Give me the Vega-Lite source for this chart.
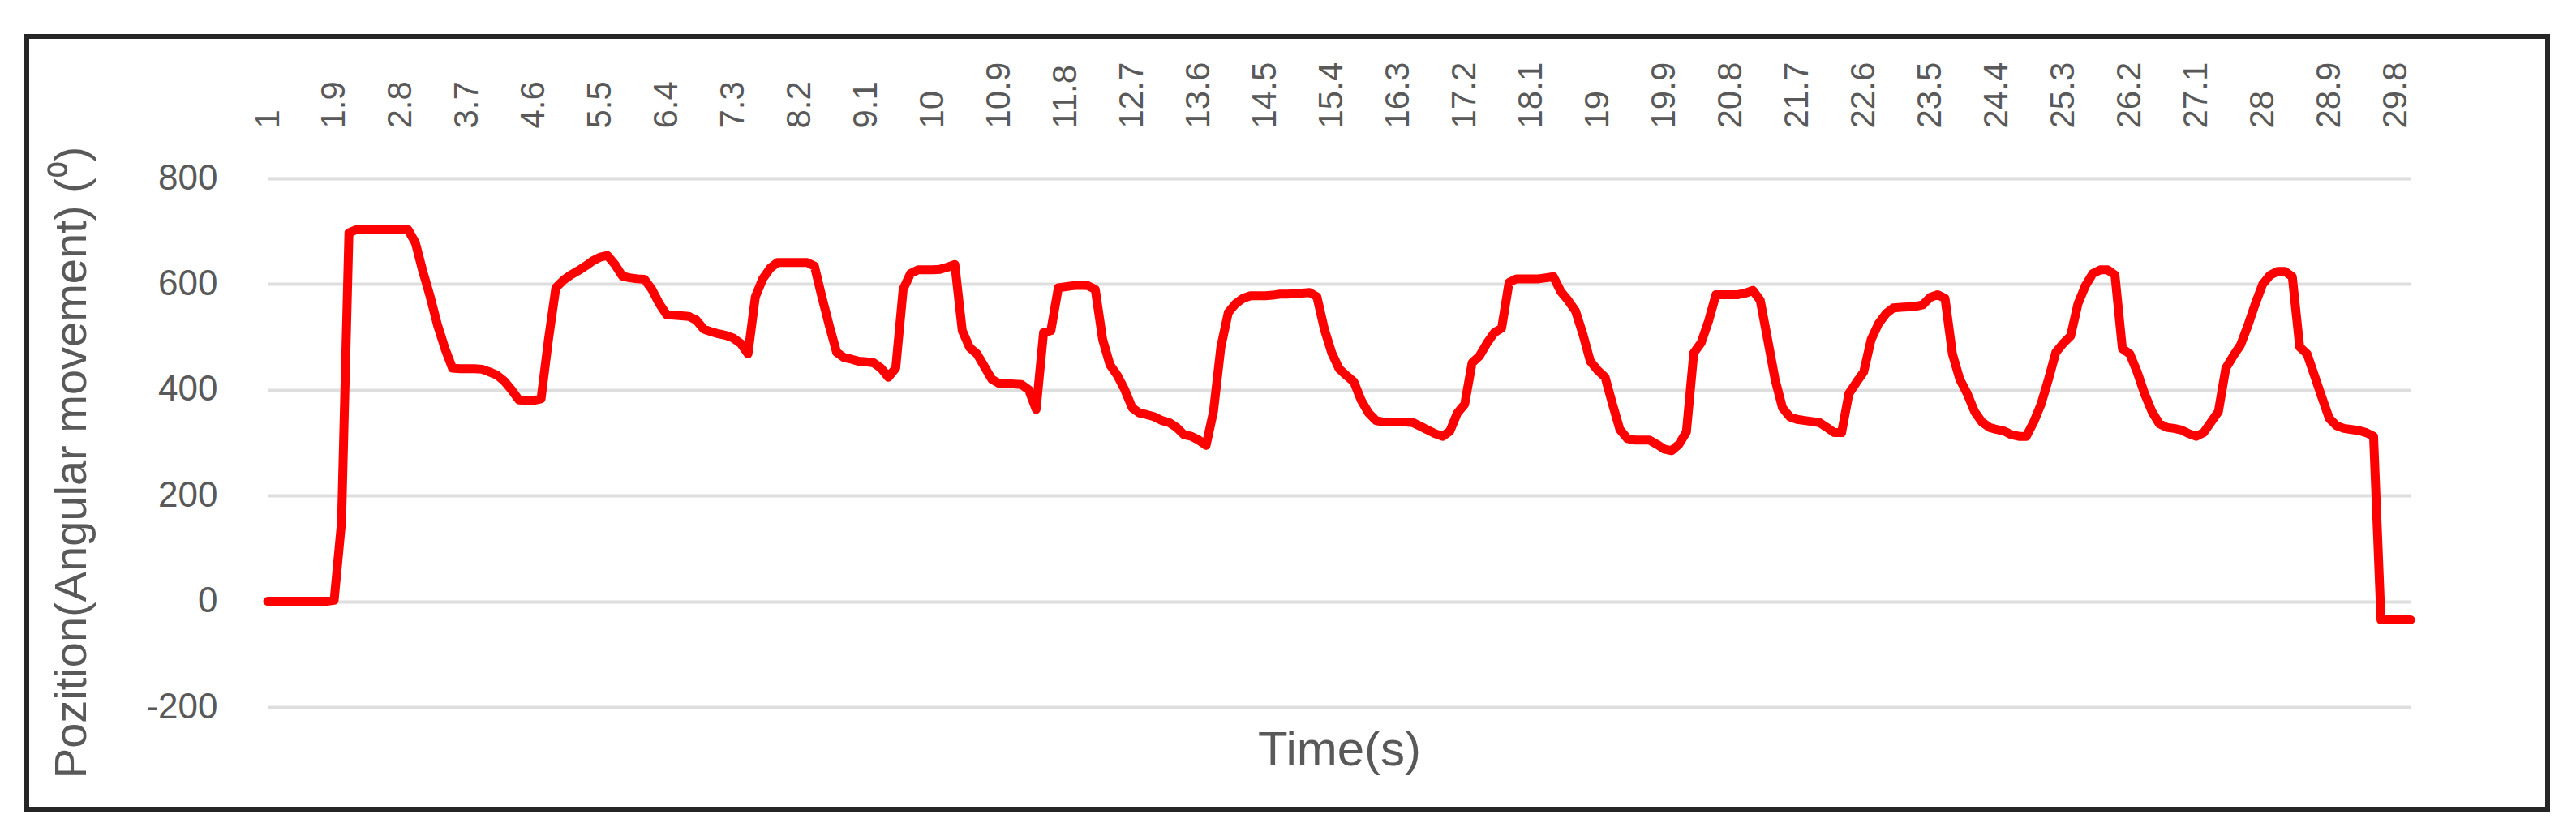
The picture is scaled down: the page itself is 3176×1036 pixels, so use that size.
{
 "$schema": "https://vega.github.io/schema/vega-lite/v6.json",
 "width": 2642,
 "height": 652,
 "autosize": {"type": "none"},
 "padding": {"left": 330, "top": 220, "right": 204, "bottom": 164},
 "background": "white",
 "config": {"view": {"stroke": null}, "font": "Liberation Sans"},
 "data": {"values": [
{"t":1.0,"v":0},{"t":1.1,"v":0},{"t":1.2,"v":0},{"t":1.3,"v":0},{"t":1.4,"v":0},{"t":1.5,"v":0},{"t":1.6,"v":0},{"t":1.7,"v":0},{"t":1.8,"v":0},{"t":1.9,"v":2},
{"t":2.0,"v":150},{"t":2.1,"v":697},{"t":2.2,"v":703},{"t":2.3,"v":703},{"t":2.4,"v":703},{"t":2.5,"v":703},{"t":2.6,"v":703},{"t":2.7,"v":703},{"t":2.8,"v":703},{"t":2.9,"v":703},
{"t":3.0,"v":678},{"t":3.1,"v":624},{"t":3.2,"v":576},{"t":3.3,"v":522},{"t":3.4,"v":478},{"t":3.5,"v":441},{"t":3.6,"v":440},{"t":3.7,"v":440},{"t":3.8,"v":440},{"t":3.9,"v":439},
{"t":4.0,"v":434},{"t":4.1,"v":428},{"t":4.2,"v":417},{"t":4.3,"v":400},{"t":4.4,"v":381},{"t":4.5,"v":380},{"t":4.6,"v":380},{"t":4.7,"v":383},{"t":4.8,"v":495},{"t":4.9,"v":593},
{"t":5.0,"v":607},{"t":5.1,"v":617},{"t":5.2,"v":625},{"t":5.3,"v":634},{"t":5.4,"v":644},{"t":5.5,"v":651},{"t":5.6,"v":654},{"t":5.7,"v":637},{"t":5.8,"v":615},{"t":5.9,"v":612},
{"t":6.0,"v":610},{"t":6.1,"v":609},{"t":6.2,"v":590},{"t":6.3,"v":563},{"t":6.4,"v":542},{"t":6.5,"v":541},{"t":6.6,"v":540},{"t":6.7,"v":539},{"t":6.8,"v":532},{"t":6.9,"v":515},
{"t":7.0,"v":510},{"t":7.1,"v":506},{"t":7.2,"v":503},{"t":7.3,"v":498},{"t":7.4,"v":488},{"t":7.5,"v":468},{"t":7.6,"v":576},{"t":7.7,"v":610},{"t":7.8,"v":630},{"t":7.9,"v":641},
{"t":8.0,"v":641},{"t":8.1,"v":641},{"t":8.2,"v":641},{"t":8.3,"v":641},{"t":8.4,"v":634},{"t":8.5,"v":576},{"t":8.6,"v":522},{"t":8.7,"v":471},{"t":8.8,"v":461},{"t":8.9,"v":458},
{"t":9.0,"v":454},{"t":9.1,"v":453},{"t":9.2,"v":451},{"t":9.3,"v":441},{"t":9.4,"v":424},{"t":9.5,"v":441},{"t":9.6,"v":590},{"t":9.7,"v":620},{"t":9.8,"v":627},{"t":9.9,"v":627},
{"t":10.0,"v":627},{"t":10.1,"v":628},{"t":10.2,"v":632},{"t":10.3,"v":637},{"t":10.4,"v":512},{"t":10.5,"v":480},{"t":10.6,"v":468},{"t":10.7,"v":444},{"t":10.8,"v":420},{"t":10.9,"v":412},
{"t":11.0,"v":412},{"t":11.1,"v":411},{"t":11.2,"v":410},{"t":11.3,"v":400},{"t":11.4,"v":363},{"t":11.5,"v":508},{"t":11.6,"v":512},{"t":11.7,"v":593},{"t":11.8,"v":595},{"t":11.9,"v":597},
{"t":12.0,"v":598},{"t":12.1,"v":597},{"t":12.2,"v":590},{"t":12.3,"v":495},{"t":12.4,"v":447},{"t":12.5,"v":427},{"t":12.6,"v":400},{"t":12.7,"v":366},{"t":12.8,"v":356},{"t":12.9,"v":353},
{"t":13.0,"v":349},{"t":13.1,"v":342},{"t":13.2,"v":338},{"t":13.3,"v":329},{"t":13.4,"v":315},{"t":13.5,"v":312},{"t":13.6,"v":305},{"t":13.7,"v":295},{"t":13.8,"v":359},{"t":13.9,"v":481},
{"t":14.0,"v":546},{"t":14.1,"v":563},{"t":14.2,"v":573},{"t":14.3,"v":578},{"t":14.4,"v":578},{"t":14.5,"v":578},{"t":14.6,"v":579},{"t":14.7,"v":581},{"t":14.8,"v":581},{"t":14.9,"v":582},
{"t":15.0,"v":583},{"t":15.1,"v":584},{"t":15.2,"v":576},{"t":15.3,"v":515},{"t":15.4,"v":470},{"t":15.5,"v":440},{"t":15.6,"v":427},{"t":15.7,"v":415},{"t":15.8,"v":380},{"t":15.9,"v":356},
{"t":16.0,"v":342},{"t":16.1,"v":339},{"t":16.2,"v":339},{"t":16.3,"v":339},{"t":16.4,"v":339},{"t":16.5,"v":338},{"t":16.6,"v":331},{"t":16.7,"v":324},{"t":16.8,"v":317},{"t":16.9,"v":312},
{"t":17.0,"v":322},{"t":17.1,"v":356},{"t":17.2,"v":373},{"t":17.3,"v":451},{"t":17.4,"v":464},{"t":17.5,"v":488},{"t":17.6,"v":508},{"t":17.7,"v":517},{"t":17.8,"v":603},{"t":17.9,"v":610},
{"t":18.0,"v":610},{"t":18.1,"v":610},{"t":18.2,"v":610},{"t":18.3,"v":612},{"t":18.4,"v":614},{"t":18.5,"v":586},{"t":18.6,"v":569},{"t":18.7,"v":549},{"t":18.8,"v":505},{"t":18.9,"v":454},
{"t":19.0,"v":437},{"t":19.1,"v":424},{"t":19.2,"v":373},{"t":19.3,"v":325},{"t":19.4,"v":308},{"t":19.5,"v":305},{"t":19.6,"v":305},{"t":19.7,"v":305},{"t":19.8,"v":297},{"t":19.9,"v":288},
{"t":20.0,"v":285},{"t":20.1,"v":297},{"t":20.2,"v":320},{"t":20.3,"v":470},{"t":20.4,"v":489},{"t":20.5,"v":530},{"t":20.6,"v":580},{"t":20.7,"v":580},{"t":20.8,"v":580},{"t":20.9,"v":580},
{"t":21.0,"v":583},{"t":21.1,"v":588},{"t":21.2,"v":569},{"t":21.3,"v":495},{"t":21.4,"v":420},{"t":21.5,"v":366},{"t":21.6,"v":349},{"t":21.7,"v":344},{"t":21.8,"v":342},{"t":21.9,"v":340},
{"t":22.0,"v":338},{"t":22.1,"v":329},{"t":22.2,"v":319},{"t":22.3,"v":319},{"t":22.4,"v":393},{"t":22.5,"v":414},{"t":22.6,"v":434},{"t":22.7,"v":495},{"t":22.8,"v":525},{"t":22.9,"v":544},
{"t":23.0,"v":555},{"t":23.1,"v":556},{"t":23.2,"v":557},{"t":23.3,"v":558},{"t":23.4,"v":561},{"t":23.5,"v":575},{"t":23.6,"v":580},{"t":23.7,"v":573},{"t":23.8,"v":468},{"t":23.9,"v":420},
{"t":24.0,"v":393},{"t":24.1,"v":359},{"t":24.2,"v":339},{"t":24.3,"v":329},{"t":24.4,"v":325},{"t":24.5,"v":322},{"t":24.6,"v":315},{"t":24.7,"v":312},{"t":24.8,"v":312},{"t":24.9,"v":339},
{"t":25.0,"v":373},{"t":25.1,"v":420},{"t":25.2,"v":471},{"t":25.3,"v":488},{"t":25.4,"v":502},{"t":25.5,"v":563},{"t":25.6,"v":597},{"t":25.7,"v":620},{"t":25.8,"v":627},{"t":25.9,"v":627},
{"t":26.0,"v":617},{"t":26.1,"v":478},{"t":26.2,"v":468},{"t":26.3,"v":434},{"t":26.4,"v":393},{"t":26.5,"v":359},{"t":26.6,"v":336},{"t":26.7,"v":329},{"t":26.8,"v":327},{"t":26.9,"v":324},
{"t":27.0,"v":317},{"t":27.1,"v":312},{"t":27.2,"v":319},{"t":27.3,"v":339},{"t":27.4,"v":359},{"t":27.5,"v":441},{"t":27.6,"v":464},{"t":27.7,"v":485},{"t":27.8,"v":522},{"t":27.9,"v":563},
{"t":28.0,"v":600},{"t":28.1,"v":617},{"t":28.2,"v":624},{"t":28.3,"v":624},{"t":28.4,"v":614},{"t":28.5,"v":481},{"t":28.6,"v":468},{"t":28.7,"v":427},{"t":28.8,"v":386},{"t":28.9,"v":346},
{"t":29.0,"v":332},{"t":29.1,"v":327},{"t":29.2,"v":325},{"t":29.3,"v":323},{"t":29.4,"v":319},{"t":29.5,"v":312},{"t":29.6,"v":-35},{"t":29.7,"v":-35},{"t":29.8,"v":-35},{"t":29.9,"v":-35},
{"t":30.0,"v":-35}
 ]},
 "layer": [
  {
   "mark": {"type": "rect", "filled": false, "stroke": "#262626", "strokeWidth": 5, "clip": false},
   "encoding": {
    "x": {"datum": -2.26, "type": "quantitative", "scale": {"domain": [1, 30], "nice": false, "zero": false},
          "axis": {"orient": "bottom", "labels": false, "ticks": false, "domain": false, "grid": false,
                   "title": "Time(s)", "titleFontSize": 60, "titleFontWeight": "normal", "titleColor": "#595959", "titlePadding": 24}},
    "x2": {"datum": 31.86},
    "y": {"datum": 1068, "type": "quantitative", "scale": {"domain": [-200, 800], "nice": false, "zero": false}, "axis": null},
    "y2": {"datum": -393}
   }
  },
  {
   "mark": {"type": "line", "color": "#ff0000", "strokeWidth": 11, "strokeJoin": "round", "strokeCap": "round"},
   "encoding": {
    "x": {"field": "t", "type": "quantitative", "scale": {"domain": [1, 30], "nice": false, "zero": false},
          "axis": {"orient": "top", "values": [1,1.9,2.8,3.7,4.6,5.5,6.4,7.3,8.2,9.1,10,10.9,11.8,12.7,13.6,14.5,15.4,16.3,17.2,18.1,19,19.9,20.8,21.7,22.6,23.5,24.4,25.3,26.2,27.1,28,28.9,29.8],
                   "labelExpr": "'' + datum.value", "labelAngle": -90, "labelFontSize": 42, "labelColor": "#595959",
                   "labelPadding": 62, "labelFlush": false, "labelOverlap": false, "ticks": false, "domain": false, "grid": false, "title": null}},
    "y": {"field": "v", "type": "quantitative", "scale": {"domain": [-200, 800], "nice": false, "zero": false},
          "axis": {"values": [-200, 0, 200, 400, 600, 800], "labelExpr": "'' + datum.value", "labelFontSize": 44, "labelColor": "#595959",
                   "labelPadding": 62, "labelFlush": false, "ticks": false, "domain": false, "grid": true, "gridColor": "#dedede", "gridWidth": 4,
                   "title": "Pozition(Angular movement) (⁰)", "titleFontSize": 56, "titleFontWeight": "normal", "titleColor": "#595959", "titlePadding": 62, "titleY": 350}}
   }
  }
 ],
 "resolve": {"axis": {"x": "independent", "y": "independent"}}
}
